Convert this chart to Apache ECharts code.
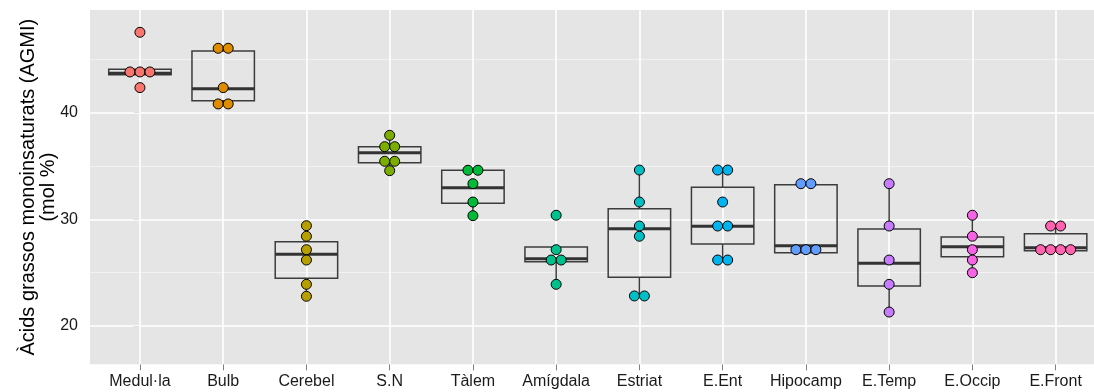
<!DOCTYPE html>
<html>
<head>
<meta charset="utf-8">
<script src="https://cdn.jsdelivr.net/npm/echarts@6/dist/echarts.min.js"></script>
<style>
  html, body { margin: 0; padding: 0; background: #ffffff; }
  #chart { width: 1094px; height: 392px; }
</style>
</head>
<body>
<div id="chart"></div>
<script>
// Brain regions, in plotting order
const regions = ['Medul·la', 'Bulb', 'Cerebel', 'S.N', 'Tàlem', 'Amígdala', 'Estriat', 'E.Ent', 'Hipocamp', 'E.Temp', 'E.Occip', 'E.Front'];
const regionColors = ['#F8766D', '#DE8C00', '#B79F00', '#7CAE00', '#00BA38', '#00C08B', '#00BFC4', '#00B4F0', '#619CFF', '#C77CFF', '#F564E3', '#FF64B0'];

// Individual samples per region (binned values, mol %); repeated values stack side by side
const medulla  = [47.54, 43.82, 43.82, 43.82, 42.35];
const bulb     = [46.04, 46.04, 42.35, 40.82, 40.82];
const cerebel  = [29.40, 28.41, 27.15, 26.18, 23.90, 22.78];
const sn       = [37.88, 36.81, 36.81, 35.44, 35.44, 34.56];
const talem    = [34.60, 34.60, 33.34, 31.62, 30.34];
const amigdala = [30.38, 27.15, 26.18, 26.18, 23.90];
const estriat  = [34.62, 31.62, 29.37, 28.41, 22.81, 22.81];
const eEnt     = [34.62, 34.62, 31.62, 29.37, 29.37, 26.18, 26.18];
const hipocamp = [33.34, 33.34, 27.15, 27.15, 27.15];
const eTemp    = [33.34, 29.37, 26.18, 23.90, 21.30];
const eOccip   = [30.38, 28.41, 27.15, 26.18, 24.99];
const eFront   = [29.37, 29.37, 27.15, 27.15, 27.15, 27.15];
const samples = [medulla, bulb, cerebel, sn, talem, amigdala, estriat, eEnt, hipocamp, eTemp, eOccip, eFront];

// Box summaries: lower whisker, first quartile, median, third quartile, upper whisker
const whiskerLow  = [43.56, 40.82, 22.78, 34.56, 30.34, 23.90, 22.81, 26.18, 26.87, 21.30, 24.99, 27.05];
const quartile1   = [43.56, 41.13, 24.47, 35.31, 31.50, 26.02, 24.56, 27.68, 26.87, 23.74, 26.49, 27.05];
const medians     = [43.70, 42.25, 26.72, 36.25, 32.96, 26.30, 29.12, 29.34, 27.52, 25.87, 27.43, 27.34];
const quartile3   = [44.07, 45.79, 27.90, 36.81, 34.60, 27.40, 30.99, 33.00, 33.25, 29.09, 28.34, 28.65];
const whiskerHigh = [44.07, 46.04, 29.40, 37.88, 34.60, 27.40, 34.62, 34.62, 33.34, 33.34, 30.38, 29.37];

// Axis ticks and grid lines
const yMajor = [20, 30, 40];
const yMinor = [25, 35, 45];
const xPositions = regions.map((_, i) => i);

const FONT = "'Liberation Sans', Arial, Helvetica, sans-serif";
const DOT_SPACING = 10;

const boxData = regions.map((_, i) => [i, whiskerLow[i], quartile1[i], medians[i], quartile3[i], whiskerHigh[i]]);

const dotData = [];
samples.forEach((vals, i) => {
  const counts = {};
  vals.forEach(v => { counts[v] = (counts[v] || 0) + 1; });
  const placed = {};
  vals.forEach(v => {
    const k = placed[v] === undefined ? 0 : placed[v] + 1;
    placed[v] = k;
    const n = counts[v];
    dotData.push({
      value: [i, v],
      symbolOffset: [(k - (n - 1) / 2) * DOT_SPACING, 0],
      itemStyle: { color: regionColors[i] }
    });
  });
});

const gridLines = [
  ...yMinor.map(v => ({ yAxis: v, lineStyle: { color: '#F2F2F2', width: 1, type: 'solid' } })),
  ...yMajor.map(v => ({ yAxis: v, lineStyle: { color: '#FFFFFF', width: 1.6, type: 'solid' } })),
  ...xPositions.map(v => ({ xAxis: v, lineStyle: { color: '#FFFFFF', width: 1.6, type: 'solid' } }))
];

const chart = echarts.init(document.getElementById('chart'), null, { renderer: 'canvas' });

chart.setOption({
  animation: false,
  backgroundColor: '#ffffff',
  grid: {
    left: 90, top: 10, right: 0, height: 354.3,
    show: true, backgroundColor: '#E5E5E5', borderWidth: 0
  },
  xAxis: {
    type: 'value', min: -0.6, max: 11.461,
    axisLine: { show: false },
    splitLine: { show: false },
    axisTick: { show: true, length: 6, customValues: xPositions, lineStyle: { color: '#7F7F7F', width: 1 } },
    axisLabel: {
      customValues: xPositions, margin: 9,
      formatter: v => regions[Math.round(v)] || '',
      color: '#1A1A1A', fontSize: 16, fontFamily: FONT
    }
  },
  yAxis: {
    type: 'value', min: 16.40, max: 49.63,
    axisLine: { show: false },
    splitLine: { show: false },
    axisTick: { show: true, length: 6, customValues: yMajor, lineStyle: { color: '#7F7F7F', width: 1 } },
    axisLabel: { customValues: yMajor, margin: 12, color: '#1A1A1A', fontSize: 16, fontFamily: FONT },
    name: 'Àcids grassos monoinsaturats (AGMI)\n(mol %)',
    nameLocation: 'middle', nameRotate: 90, nameGap: 32, nameMoveOverlap: false,
    nameTextStyle: { fontSize: 20, fontFamily: FONT, color: '#000000', lineHeight: 20, align: 'center' }
  },
  series: [
    {
      type: 'line', data: [], z: 1, silent: true,
      markLine: { silent: true, symbol: 'none', label: { show: false }, z: 1, data: gridLines, animation: false }
    },
    {
      type: 'custom', z: 2, silent: true,
      data: boxData,
      renderItem: (params, api) => {
        const x = api.value(0);
        const lo = api.coord([x, api.value(1)]);
        const b1 = api.coord([x, api.value(2)]);
        const md = api.coord([x, api.value(3)]);
        const b3 = api.coord([x, api.value(4)]);
        const hi = api.coord([x, api.value(5)]);
        const half = api.size([0.75, 0])[0] / 2;
        const edge = { stroke: '#3C3C3C', lineWidth: 1.5, fill: 'none' };
        return {
          type: 'group',
          children: [
            { type: 'line', shape: { x1: lo[0], y1: lo[1], x2: b1[0], y2: b1[1] }, style: edge },
            { type: 'line', shape: { x1: b3[0], y1: b3[1], x2: hi[0], y2: hi[1] }, style: edge },
            { type: 'rect', shape: { x: b1[0] - half, y: b3[1], width: 2 * half, height: b1[1] - b3[1] }, style: edge },
            { type: 'line', shape: { x1: md[0] - half, y1: md[1], x2: md[0] + half, y2: md[1] }, style: { stroke: '#333333', lineWidth: 3 } }
          ]
        };
      }
    },
    {
      type: 'scatter', z: 3, silent: true,
      symbol: 'circle', symbolSize: 10,
      itemStyle: { borderColor: '#000000', borderWidth: 1, opacity: 1 },
      data: dotData
    }
  ]
});
</script>
</body>
</html>
